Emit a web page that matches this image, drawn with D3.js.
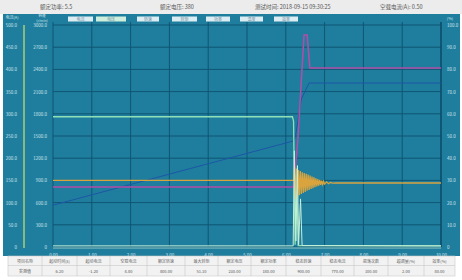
<!DOCTYPE html>
<html>
<head>
<meta charset="utf-8">
<script src="https://cdn.jsdelivr.net/npm/d3@7"></script>
<style>
body{margin:0;background:#fff;}
#chart{width:462px;height:280px;}
text{font-family:"Noto Sans CJK SC","DejaVu Sans",sans-serif;}
</style>
</head>
<body>
<div id="chart"></div>
<script>
// header info
var headerLabels = ["额定功率: 5.5", "额定电压: 380", "测试时间: 2018-09-15 09:30:25", "空载电流(A): 0.50"];
// legend buttons
var legendNames = ["电流", "电压", "转速", "转矩", "功率", "温度", "效率"];
// axes
var timeTicks = [0, 1, 2, 3, 4, 5, 6, 7, 8, 9, 10];
var leftTicks = [0, 300, 600, 900, 1200, 1500, 1800, 2100, 2400, 2700, 3000];
var outerTicks = [0, 50, 100, 150, 200, 250, 300, 350, 400, 450, 500];
var rightTicks = [0, 10, 20, 30, 40, 50, 60, 70, 80, 90, 100];

// series [t, value] on the left scale
var mintSeries = [[0,1760],[6.17,1760],[6.2,1700],[6.24,30],[6.28,900],[6.32,20],[10,15]];
var baseSeries = [[0,15],[6.19,15],[6.22,1300],[6.26,80],[6.30,1100],[6.33,30],[6.38,650],[6.42,20],[10,15]];
var blueSeries = [[0,565],[6.19,1432],[6.25,1500],[6.4,2000],[6.6,2216],[10,2216]];
var purpleSeries = [[0,810],[6.19,810],[6.22,900],[6.31,1446],[6.47,2864],[6.55,2864],[6.62,2420],[10,2420]];
var orangeSeries = [[0,900],[6.19,900],[6.2,900],[6.225,1080],[6.25,650],[6.275,1060],[6.3,680],[6.325,1040],
	[6.35,700],[6.375,1025],[6.4,715],[6.425,1010],[6.45,730],[6.475,1000],[6.5,745],[6.525,990],[6.55,760],
	[6.575,978],[6.6,772],[6.625,965],[6.65,785],[6.675,952],[6.7,795],[6.725,942],[6.75,808],[6.775,928],
	[6.8,818],[6.825,917],[6.85,828],[6.875,906],[6.9,838],[6.925,896],[6.95,845],[6.975,888],[7.0,850],
	[7.05,880],[7.1,855],[7.15,872],[7.2,862],[7.3,866],[10,865]];

// bottom table
var tableHeads = ["项目名称", "起动时间(s)", "起动电流", "空载电流", "额定转速", "最大转矩", "额定电压", "额定功率", "稳态转速", "稳态电流", "振荡次数", "超调量(%)", "效率(%)"];
var tableValues = ["实测值", "6.20", "-1.20", "4.80", "800.00", "51.10", "230.00", "180.00", "900.00", "770.00", "100.00", "2.00", "80.00"];
var tableEdges = [8, 42, 77, 110, 147, 185, 218, 251, 286, 321, 354, 388, 424, 455];

var chart =
{
	initialize:function()
	{
		var svg = d3.select("#chart").append("svg").attr("width", 462).attr("height", 280);

		var stx = 53, enx = 441, sty = 25, eny = 247;
		var x = d3.scaleLinear().domain([0, 10]).range([stx, enx]);
		var y = d3.scaleLinear().domain([0, 3000]).range([eny, sty]);
		var yo = d3.scaleLinear().domain([0, 500]).range([eny, sty]);
		var yr = d3.scaleLinear().domain([0, 100]).range([eny, sty]);

		// header band
		svg.append("rect").attr("x", 0).attr("y", 0).attr("width", 462).attr("height", 14).attr("fill", "#ececec");
		var hx = [40, 160, 255, 380];
		svg.selectAll(".head").data(headerLabels).enter().append("text")
			.attr("x", function(d, i){ return hx[i]; }).attr("y", 9)
			.attr("font-size", 5.5).attr("fill", "#555").text(function(d){ return d; });

		// teal panel
		svg.append("rect").attr("x", 3).attr("y", 14).attr("width", 457).attr("height", 242).attr("fill", "#1f7e9e");

		// legend buttons
		var lx = [68, 96, 137, 172, 206, 240, 274];
		var lw = [25, 30, 22, 25, 24, 23, 24];
		var lg = svg.selectAll(".leg").data(legendNames).enter().append("g");
		lg.append("rect").attr("x", function(d, i){ return lx[i]; }).attr("y", 16.5)
			.attr("width", function(d, i){ return lw[i]; }).attr("height", 5)
			.attr("fill", function(d, i){ return i == 1 ? "#cdeedc" : "#dcecf3"; });
		lg.append("text").attr("x", function(d, i){ return lx[i] + lw[i] / 2; }).attr("y", 20.7)
			.attr("text-anchor", "middle").attr("font-size", 4).attr("fill", "#6a8ea0").text(function(d){ return d; });

		// grid
		svg.selectAll(".vg").data(timeTicks).enter().append("line")
			.attr("x1", function(d){ return x(d); }).attr("x2", function(d){ return x(d); })
			.attr("y1", sty - 3).attr("y2", eny).attr("stroke", "#0f5573").attr("stroke-width", 1);
		svg.selectAll(".hg").data(leftTicks).enter().append("line")
			.attr("x1", stx).attr("x2", enx)
			.attr("y1", function(d){ return y(d); }).attr("y2", function(d){ return y(d); })
			.attr("stroke", "#0f5573").attr("stroke-width", 1);

		// axes
		var fmt1 = d3.format(".1f");
		var ax = svg.append("g").attr("transform", "translate(0," + (eny + 5) + ")")
			.call(d3.axisBottom(x).tickValues(timeTicks).tickFormat(d3.format(".2f")).tickSize(0));
		var al = svg.append("g").attr("transform", "translate(50,0)")
			.call(d3.axisLeft(y).tickValues(leftTicks).tickFormat(function(d){ return d == 0 ? "0" : fmt1(d); }).tickSize(0));
		var ao = svg.append("g").attr("transform", "translate(20,0)")
			.call(d3.axisLeft(yo).tickValues(outerTicks).tickFormat(function(d){ return d == 0 ? "0" : fmt1(d); }).tickSize(0));
		var ar = svg.append("g").attr("transform", "translate(444,0)")
			.call(d3.axisRight(yr).tickValues(rightTicks).tickFormat(function(d){ return d == 0 ? "0" : fmt1(d); }).tickSize(0));
		[ax, al, ao, ar].forEach(function(a)
		{
			a.select(".domain").remove();
			a.selectAll("text").attr("font-size", 4.5).attr("fill", "#cfe4ec").attr("dy", "0.32em");
		});
		ax.selectAll("text").attr("dy", "0.4em");

		// axis titles
		svg.append("text").attr("x", 12).attr("y", 19).attr("text-anchor", "middle").attr("font-size", 4).attr("fill", "#cfe4ec").text("电流(A)");
		svg.append("text").attr("x", 42).attr("y", 16.8).attr("text-anchor", "middle").attr("font-size", 3.6).attr("fill", "#cfe4ec").text("转速");
		svg.append("text").attr("x", 42).attr("y", 21.6).attr("text-anchor", "middle").attr("font-size", 3.6).attr("fill", "#cfe4ec").text("(r/min)");
		svg.append("text").attr("x", 450).attr("y", 20).attr("text-anchor", "middle").attr("font-size", 4).attr("fill", "#cfe4ec").text("(%)");

		// outer axis line and bottom line
		svg.append("line").attr("x1", 24).attr("x2", 24).attr("y1", sty).attr("y2", eny + 1)
			.attr("stroke", "#a9cf78").attr("stroke-width", 1.5);
		svg.append("line").attr("x1", stx).attr("x2", enx).attr("y1", eny + 1).attr("y2", eny + 1)
			.attr("stroke", "#8fc8c4").attr("stroke-width", 1);
		svg.append("line").attr("x1", enx).attr("x2", enx).attr("y1", sty - 3).attr("y2", eny)
			.attr("stroke", "#0b4a66").attr("stroke-width", 1.2);

		// series
		var line = d3.line().x(function(d){ return x(d[0]); }).y(function(d){ return y(d[1]); });
		var series = [
			{data: blueSeries, color: "#1d56a6", w: 1},
			{data: mintSeries, color: "#8fe0b4", w: 1.3},
			{data: purpleSeries, color: "#b24ea8", w: 1.5},
			{data: orangeSeries, color: "#d9a43e", w: 1.3},
			{data: baseSeries, color: "#c4f0da", w: 1}
		];
		svg.selectAll(".ser").data(series).enter().append("path")
			.attr("d", function(d){ return line(d.data); })
			.attr("fill", "none").attr("stroke", function(d){ return d.color; })
			.attr("stroke-width", function(d){ return d.w; });

		// bottom table
		svg.append("rect").attr("x", 8).attr("y", 256).attr("width", 447).attr("height", 20)
			.attr("fill", "#f2f2f2").attr("stroke", "#c8c8c8").attr("stroke-width", 0.6);
		svg.append("line").attr("x1", 8).attr("x2", 455).attr("y1", 265.5).attr("y2", 265.5)
			.attr("stroke", "#c8c8c8").attr("stroke-width", 0.6);
		svg.selectAll(".col").data(tableEdges.slice(1, -1)).enter().append("line")
			.attr("x1", function(d){ return d; }).attr("x2", function(d){ return d; })
			.attr("y1", 256).attr("y2", 276).attr("stroke", "#c8c8c8").attr("stroke-width", 0.6);
		svg.selectAll(".th").data(tableHeads).enter().append("text")
			.attr("x", function(d, i){ return (tableEdges[i] + tableEdges[i + 1]) / 2; }).attr("y", 262.5)
			.attr("text-anchor", "middle").attr("font-size", 4).attr("fill", "#666").text(function(d){ return d; });
		svg.selectAll(".tv").data(tableValues).enter().append("text")
			.attr("x", function(d, i){ return (tableEdges[i] + tableEdges[i + 1]) / 2; }).attr("y", 272.5)
			.attr("text-anchor", "middle").attr("font-size", 4).attr("fill", "#555").text(function(d){ return d; });
	}
};
chart.initialize();
</script>
</body>
</html>
